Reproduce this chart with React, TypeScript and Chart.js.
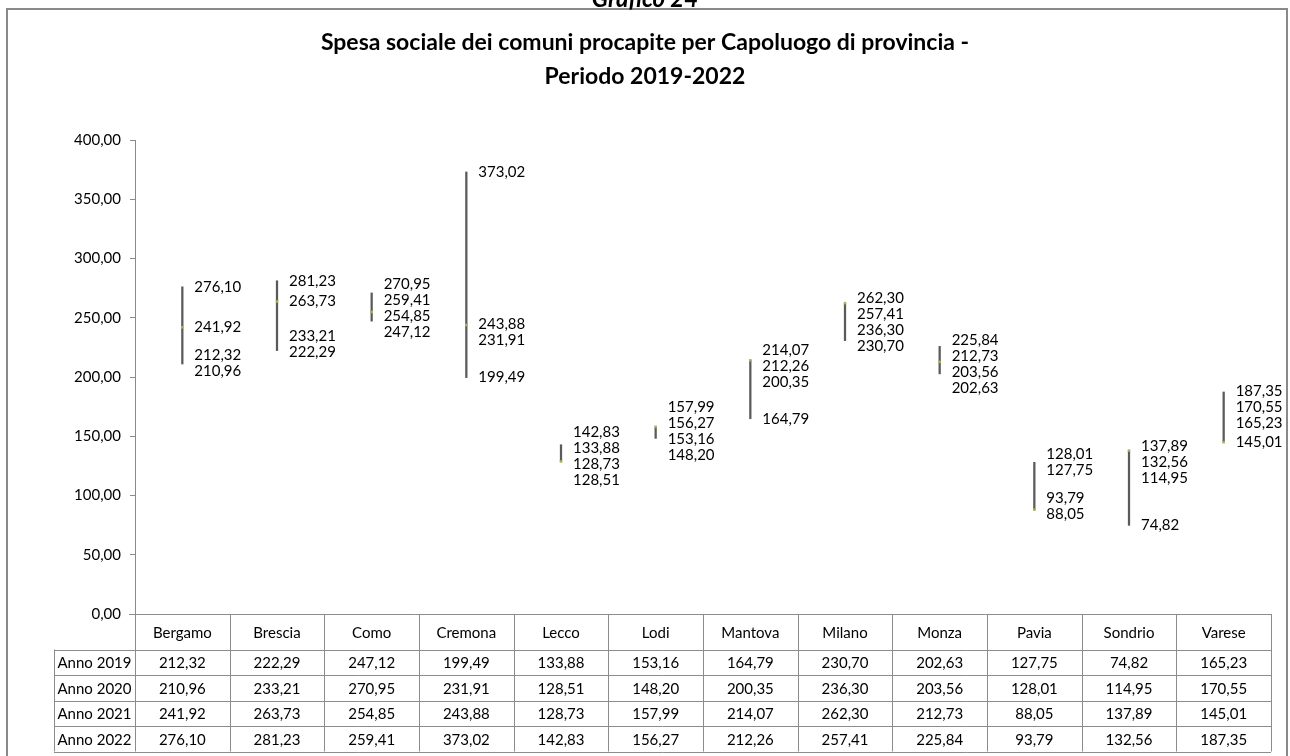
import React, { useEffect, useRef } from "react";
import { Chart, registerables } from "chart.js";

Chart.register(...registerables);

const categories = ["Bergamo", "Brescia", "Como", "Cremona", "Lecco", "Lodi", "Mantova", "Milano", "Monza", "Pavia", "Sondrio", "Varese"];
const seriesNames = ["Anno 2019", "Anno 2020", "Anno 2021", "Anno 2022"];
const anno2019 = [212.32, 222.29, 247.12, 199.49, 133.88, 153.16, 164.79, 230.7, 202.63, 127.75, 74.82, 165.23];
const anno2020 = [210.96, 233.21, 270.95, 231.91, 128.51, 148.2, 200.35, 236.3, 203.56, 128.01, 114.95, 170.55];
const anno2021 = [241.92, 263.73, 254.85, 243.88, 128.73, 157.99, 214.07, 262.3, 212.73, 88.05, 137.89, 145.01];
const anno2022 = [276.1, 281.23, 259.41, 373.02, 142.83, 156.27, 212.26, 257.41, 225.84, 93.79, 132.56, 187.35];
const titleLines = ["Spesa sociale dei comuni procapite per Capoluogo di provincia -", "Periodo 2019-2022"];
const pageTitle = "Grafico 24";
const yMin = 0;
const yMax = 400;
const yStep = 50;

const series = [anno2019, anno2020, anno2021, anno2022];
const FONT = "Lato, 'Noto Sans', sans-serif";
const fmt = (v: number) => v.toFixed(2).replace(".", ",");

function spread(ys: number[], gap: number): number[] {
  const items = ys.map((y, i) => ({ y, i })).sort((a, b) => a.y - b.y);
  let clusters = items.map((it) => ({ members: [it], top: it.y }));
  let changed = true;
  while (changed) {
    changed = false;
    for (let k = 1; k < clusters.length; k++) {
      const p = clusters[k - 1];
      const c = clusters[k];
      if (p.top + p.members.length * gap > c.top) {
        const members = p.members.concat(c.members);
        const mean = members.reduce((s, m) => s + m.y, 0) / members.length;
        clusters.splice(k - 1, 2, { members, top: mean - ((members.length - 1) * gap) / 2 });
        changed = true;
        break;
      }
    }
  }
  const out = new Array(ys.length).fill(0);
  clusters.forEach((c) => c.members.forEach((m, j) => (out[m.i] = c.top + j * gap)));
  return out;
}

const decorPlugin = {
  id: "decor",
  afterDatasetsDraw(chart: any) {
    const ctx = chart.ctx;
    const x = chart.scales.x;
    const y = chart.scales.y;
    ctx.save();
    ctx.font = `15px ${FONT}`;
    ctx.fillStyle = "#000";
    ctx.textAlign = "left";
    ctx.textBaseline = "middle";
    categories.forEach((_, i) => {
      const cx = x.getPixelForValue(i);
      const ys = series.map((s) => y.getPixelForValue(s[i]));
      const pos = spread(ys, 16);
      series.forEach((s, k) => {
        ctx.fillText(fmt(s[i]), cx + 12, pos[k]);
      });
    });
    ctx.restore();
  },
  afterDraw(chart: any) {
    const ctx = chart.ctx;
    const x = chart.scales.x;
    const area = chart.chartArea;
    ctx.save();
    // frame
    ctx.strokeStyle = "#8a8a8a";
    ctx.lineWidth = 2;
    ctx.strokeRect(7, 9, 1280, 760);
    // page title
    ctx.fillStyle = "#000";
    ctx.textAlign = "center";
    ctx.textBaseline = "alphabetic";
    ctx.font = `italic bold 24px ${FONT}`;
    ctx.fillText(pageTitle, 645, 7);
    // chart title
    ctx.font = `bold 23px ${FONT}`;
    ctx.textBaseline = "middle";
    ctx.fillText(titleLines[0], 645, 43);
    ctx.fillText(titleLines[1], 645, 77);

    // data table
    const band = (area.right - area.left) / categories.length;
    const headTop = area.bottom;
    const headBottom = 649.5;
    const rowH = 25.5;
    const tableBottom = headBottom + rowH * series.length;
    const labelLeft = 54;
    ctx.strokeStyle = "#8c8c8c";
    ctx.lineWidth = 1;
    ctx.beginPath();
    ctx.moveTo(area.left - 6, headTop + 0.5);
    ctx.lineTo(area.right, headTop + 0.5);
    for (let r = 0; r <= series.length; r++) {
      const yy = Math.round(headBottom + r * rowH) + 0.5;
      ctx.moveTo(labelLeft, yy);
      ctx.lineTo(area.right, yy);
    }
    for (let c = 0; c <= categories.length; c++) {
      const xx = Math.round(x.getPixelForValue(c) - band / 2) + 0.5;
      ctx.moveTo(xx, headTop);
      ctx.lineTo(xx, tableBottom);
    }
    ctx.moveTo(labelLeft + 0.5, headBottom);
    ctx.lineTo(labelLeft + 0.5, tableBottom);
    ctx.stroke();

    ctx.fillStyle = "#000";
    ctx.font = `15px ${FONT}`;
    ctx.textAlign = "center";
    ctx.textBaseline = "middle";
    categories.forEach((name, i) => {
      const cx = x.getPixelForValue(i);
      ctx.fillText(name, cx, (headTop + headBottom) / 2 + 1);
      series.forEach((s, r) => {
        ctx.fillText(fmt(s[i]), cx, headBottom + r * rowH + rowH / 2 + 1);
      });
    });
    seriesNames.forEach((n, r) => {
      ctx.fillText(n, (labelLeft + area.left) / 2, headBottom + r * rowH + rowH / 2 + 1);
    });
    ctx.restore();
  },
};

export default function App() {
  const ref = useRef<HTMLCanvasElement | null>(null);
  useEffect(() => {
    if (!ref.current) return;
    const ranges = categories.map((_, i) => {
      const vals = series.map((s) => s[i]);
      return [Math.min(...vals), Math.max(...vals)];
    });
    const lineSets = series.map((s, k) => ({
      type: "line" as const,
      label: seriesNames[k],
      data: s,
      showLine: false,
      pointRadius: k === 2 ? 1.8 : 0,
      pointStyle: "rect",
      pointBackgroundColor: "#9BBB59",
      pointBorderColor: "#9BBB59",
      pointBorderWidth: 0,
      order: 1,
    }));
    const chart = new Chart(ref.current, {
      type: "bar",
      data: {
        labels: categories,
        datasets: [
          {
            type: "bar",
            label: "range",
            data: ranges as any,
            backgroundColor: "#5a5a5a",
            barThickness: 1.6,
            order: 2,
          } as any,
          ...lineSets,
        ],
      },
      options: {
        responsive: false,
        animation: false,
        devicePixelRatio: 1,
        layout: { padding: { top: 140, bottom: 142, left: 0, right: 19 } },
        plugins: { legend: { display: false }, tooltip: { enabled: false }, title: { display: false } },
        scales: {
          x: { display: false, offset: true, grid: { offset: true } },
          y: {
            min: yMin,
            max: yMax,
            afterFit: (s: any) => {
              s.width = 135;
            },
            ticks: {
              stepSize: yStep,
              padding: 9,
              color: "#000",
              font: { family: FONT, size: 15 },
              callback: (v: any) => fmt(Number(v)),
            },
            grid: { drawOnChartArea: false, drawTicks: true, tickLength: 5, color: "#8a8a8a" },
            border: { display: true, color: "#8a8a8a", width: 1 },
          },
        },
      },
      plugins: [decorPlugin],
    } as any);
    return () => chart.destroy();
  }, []);
  return (
    <div style={{ position: "absolute", left: 0, top: 0, width: 1290, height: 756 }}>
      <canvas ref={ref} width={1290} height={756} style={{ display: "block" }} />
    </div>
  );
}
